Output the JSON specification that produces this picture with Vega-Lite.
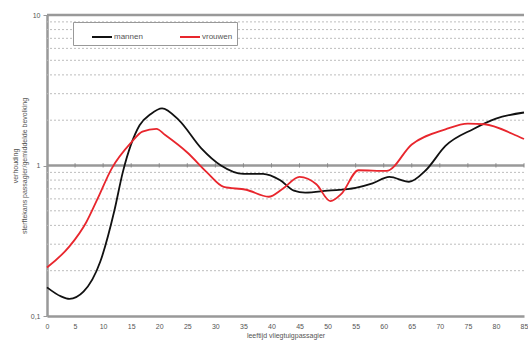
{
  "$schema": "https://vega.github.io/schema/vega-lite/v6.json",
  "width": 477,
  "height": 301,
  "autosize": "none",
  "padding": {"left": 47, "top": 15, "right": 4, "bottom": 29},
  "background": "white",
  "config": {
    "view": {"stroke": null},
    "font": "Liberation Sans",
    "axis": {"labelFont": "Liberation Sans", "titleFont": "Liberation Sans", "labelColor": "#555", "titleColor": "#555"}
  },
  "datasets": {
    "series": [
      {"leeftijd": 0, "waarde": 0.155, "geslacht": "mannen"},
      {"leeftijd": 2.5, "waarde": 0.135, "geslacht": "mannen"},
      {"leeftijd": 4, "waarde": 0.13, "geslacht": "mannen"},
      {"leeftijd": 6.5, "waarde": 0.145, "geslacht": "mannen"},
      {"leeftijd": 9.5, "waarde": 0.23, "geslacht": "mannen"},
      {"leeftijd": 12, "waarde": 0.5, "geslacht": "mannen"},
      {"leeftijd": 13.5, "waarde": 0.9, "geslacht": "mannen"},
      {"leeftijd": 16.5, "waarde": 1.85, "geslacht": "mannen"},
      {"leeftijd": 18.5, "waarde": 2.2, "geslacht": "mannen"},
      {"leeftijd": 20.5, "waarde": 2.4, "geslacht": "mannen"},
      {"leeftijd": 23.5, "waarde": 2.0, "geslacht": "mannen"},
      {"leeftijd": 27.5, "waarde": 1.3, "geslacht": "mannen"},
      {"leeftijd": 31, "waarde": 1.0, "geslacht": "mannen"},
      {"leeftijd": 35, "waarde": 0.88, "geslacht": "mannen"},
      {"leeftijd": 38.5, "waarde": 0.88, "geslacht": "mannen"},
      {"leeftijd": 41.5, "waarde": 0.8, "geslacht": "mannen"},
      {"leeftijd": 44, "waarde": 0.68, "geslacht": "mannen"},
      {"leeftijd": 46, "waarde": 0.66, "geslacht": "mannen"},
      {"leeftijd": 50, "waarde": 0.68, "geslacht": "mannen"},
      {"leeftijd": 55, "waarde": 0.71, "geslacht": "mannen"},
      {"leeftijd": 58, "waarde": 0.76, "geslacht": "mannen"},
      {"leeftijd": 61, "waarde": 0.84, "geslacht": "mannen"},
      {"leeftijd": 64.5, "waarde": 0.78, "geslacht": "mannen"},
      {"leeftijd": 67.5, "waarde": 0.93, "geslacht": "mannen"},
      {"leeftijd": 71, "waarde": 1.35, "geslacht": "mannen"},
      {"leeftijd": 76, "waarde": 1.75, "geslacht": "mannen"},
      {"leeftijd": 80, "waarde": 2.05, "geslacht": "mannen"},
      {"leeftijd": 85, "waarde": 2.25, "geslacht": "mannen"},
      {"leeftijd": 0, "waarde": 0.21, "geslacht": "vrouwen"},
      {"leeftijd": 4, "waarde": 0.29, "geslacht": "vrouwen"},
      {"leeftijd": 7, "waarde": 0.42, "geslacht": "vrouwen"},
      {"leeftijd": 9, "waarde": 0.6, "geslacht": "vrouwen"},
      {"leeftijd": 11.5, "waarde": 0.95, "geslacht": "vrouwen"},
      {"leeftijd": 15, "waarde": 1.42, "geslacht": "vrouwen"},
      {"leeftijd": 17, "waarde": 1.68, "geslacht": "vrouwen"},
      {"leeftijd": 19.5, "waarde": 1.75, "geslacht": "vrouwen"},
      {"leeftijd": 21, "waarde": 1.6, "geslacht": "vrouwen"},
      {"leeftijd": 25, "waarde": 1.22, "geslacht": "vrouwen"},
      {"leeftijd": 28.5, "waarde": 0.9, "geslacht": "vrouwen"},
      {"leeftijd": 31.5, "waarde": 0.72, "geslacht": "vrouwen"},
      {"leeftijd": 35.5, "waarde": 0.69, "geslacht": "vrouwen"},
      {"leeftijd": 39.5, "waarde": 0.62, "geslacht": "vrouwen"},
      {"leeftijd": 42, "waarde": 0.7, "geslacht": "vrouwen"},
      {"leeftijd": 45, "waarde": 0.84, "geslacht": "vrouwen"},
      {"leeftijd": 48, "waarde": 0.75, "geslacht": "vrouwen"},
      {"leeftijd": 50.5, "waarde": 0.58, "geslacht": "vrouwen"},
      {"leeftijd": 52.5, "waarde": 0.65, "geslacht": "vrouwen"},
      {"leeftijd": 55.5, "waarde": 0.93, "geslacht": "vrouwen"},
      {"leeftijd": 60.5, "waarde": 0.92, "geslacht": "vrouwen"},
      {"leeftijd": 65, "waarde": 1.38, "geslacht": "vrouwen"},
      {"leeftijd": 71, "waarde": 1.74, "geslacht": "vrouwen"},
      {"leeftijd": 75, "waarde": 1.9, "geslacht": "vrouwen"},
      {"leeftijd": 78, "waarde": 1.88, "geslacht": "vrouwen"},
      {"leeftijd": 83, "waarde": 1.62, "geslacht": "vrouwen"},
      {"leeftijd": 85, "waarde": 1.5, "geslacht": "vrouwen"}
    ],
    "grid": [
      {"g": 0.2}, {"g": 0.3}, {"g": 0.4}, {"g": 0.5}, {"g": 0.6}, {"g": 0.7}, {"g": 0.8}, {"g": 0.9},
      {"g": 2}, {"g": 3}, {"g": 4}, {"g": 5}, {"g": 6}, {"g": 7}, {"g": 8}, {"g": 9}
    ],
    "major": [{"g": 1}, {"g": 10}],
    "xticks": [
      {"x": 5}, {"x": 10}, {"x": 15}, {"x": 20}, {"x": 25}, {"x": 30}, {"x": 35}, {"x": 40},
      {"x": 45}, {"x": 50}, {"x": 55}, {"x": 60}, {"x": 65}, {"x": 70}, {"x": 75}, {"x": 80}, {"x": 85}
    ]
  },
  "encoding": {
    "x": {
      "type": "quantitative",
      "scale": {"domain": [0, 85], "nice": false},
      "axis": {
        "title": "leeftijd vliegtuigpassagier",
        "titleFontSize": 7, "titleFontWeight": "normal", "titlePadding": 2,
        "values": [0, 5, 10, 15, 20, 25, 30, 35, 40, 45, 50, 55, 60, 65, 70, 75, 80, 85],
        "labelFontSize": 7, "labelPadding": 6, "ticks": false,
        "domainColor": "#999999", "domainWidth": 2.5, "grid": false, "labelFlush": false
      }
    },
    "y": {
      "type": "quantitative",
      "scale": {"type": "log", "domain": [0.1, 10], "nice": false},
      "axis": {
        "title": ["verhouding", "sterftekans passagier/gemiddelde bevolking"],
        "titleFontSize": 7, "titleFontWeight": "normal", "titlePadding": 3,
        "values": [0.1, 1, 10],
        "labelExpr": "replace(datum.label, '.', ',')",
        "labelFontSize": 7, "labelPadding": 3,
        "tickSize": 4, "tickColor": "#999999",
        "domainColor": "#999999", "domainWidth": 2.5, "grid": false
      }
    }
  },
  "layer": [
    {
      "data": {"name": "grid"},
      "mark": {"type": "rule", "color": "#bdbdbd", "strokeWidth": 1, "strokeDash": [2, 2]},
      "encoding": {
        "y": {"field": "g", "type": "quantitative"}
      }
    },
    {
      "data": {"name": "major"},
      "mark": {"type": "rule", "color": "#999999", "strokeWidth": 2.5},
      "encoding": {
        "y": {"field": "g", "type": "quantitative"}
      }
    },
    {
      "data": {"name": "xticks"},
      "mark": {"type": "rule", "color": "#888888", "strokeWidth": 1},
      "encoding": {
        "x": {"field": "x", "type": "quantitative"},
        "y": {"datum": 0.97, "type": "quantitative"},
        "y2": {"datum": 1.035}
      }
    },
    {
      "data": {"name": "series"},
      "mark": {"type": "line", "strokeWidth": 1.8, "interpolate": "monotone"},
      "encoding": {
        "x": {"field": "leeftijd", "type": "quantitative"},
        "y": {"field": "waarde", "type": "quantitative"},
        "color": {
          "field": "geslacht", "type": "nominal",
          "scale": {"domain": ["mannen", "vrouwen"], "range": ["#111111", "#e8262d"]},
          "legend": {
            "title": null, "orient": "none", "legendX": 26, "legendY": 7,
            "direction": "horizontal", "strokeColor": "#999999", "fillColor": "white",
            "padding": 4, "symbolType": "stroke", "symbolStrokeWidth": 2, "symbolSize": 400,
            "labelFontSize": 8, "labelColor": "#555", "labelOffset": 1, "columnPadding": 22,
            "symbolOffset": 14
          }
        }
      }
    }
  ]
}
